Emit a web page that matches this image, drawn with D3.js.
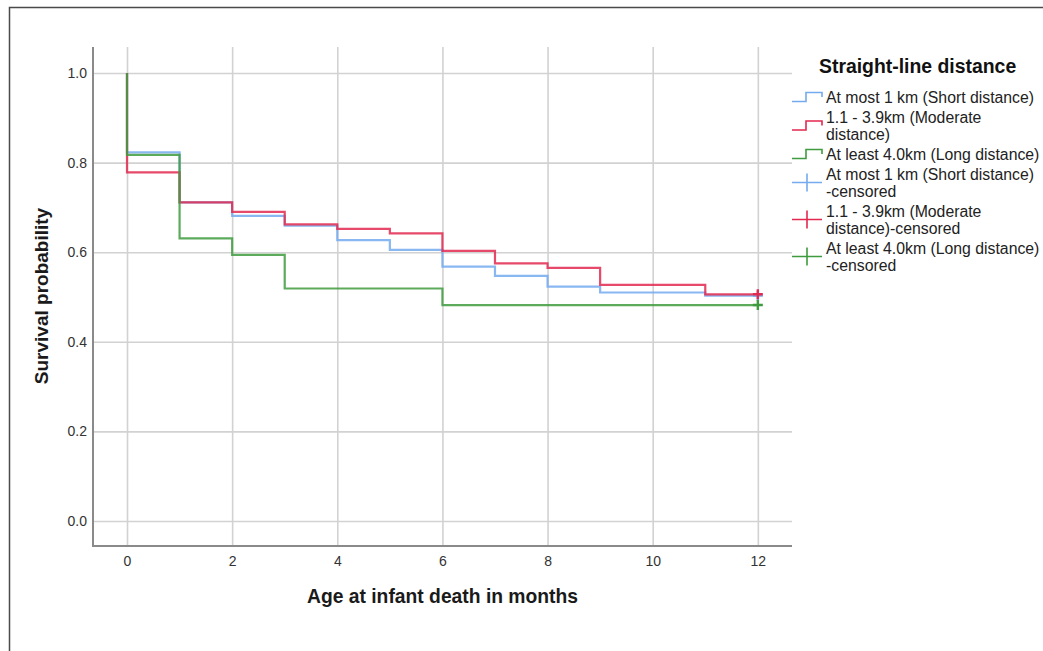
<!DOCTYPE html>
<html>
<head>
<meta charset="utf-8">
<script src="https://cdn.jsdelivr.net/npm/d3@7"></script>
<style>
  html, body { margin: 0; padding: 0; background: #fff; overflow: hidden; }
  svg { display: block; font-family: "Liberation Sans", Arial, sans-serif; }
</style>
</head>
<body>
<svg id="chart" width="1043" height="651"></svg>
<script>
// ---- Data ----
const xTicks = [0, 2, 4, 6, 8, 10, 12];
const yTicks = [0.0, 0.2, 0.4, 0.6, 0.8, 1.0];

const shortTimes = [0, 1, 2, 3, 4, 5, 6, 7, 8, 9, 11];
const shortSurv  = [0.823, 0.711, 0.681, 0.659, 0.627, 0.605, 0.568, 0.547, 0.523, 0.510, 0.503];

const moderateTimes = [0, 1, 2, 3, 4, 5, 6, 7, 8, 9, 11];
const moderateSurv  = [0.778, 0.711, 0.690, 0.662, 0.652, 0.642, 0.603, 0.575, 0.565, 0.527, 0.506];

const longTimes = [0, 1, 2, 3, 6];
const longSurv  = [0.817, 0.631, 0.594, 0.519, 0.482];

const censorTime = 12;
const startSurv = 1.0;

const seriesNames = ["At most 1 km (Short distance)", "1.1 - 3.9km (Moderate distance)", "At least 4.0km (Long distance)"];
const seriesColors = ["#74aaee", "#e2294f", "#3f9b3f"];

const legendTitle = "Straight-line distance";
const legendLabels = [
  ["At most 1 km (Short distance)"],
  ["1.1 - 3.9km (Moderate", "distance)"],
  ["At least 4.0km (Long distance)"],
  ["At most 1 km (Short distance)", "-censored"],
  ["1.1 - 3.9km (Moderate", "distance)-censored"],
  ["At least 4.0km (Long distance)", "-censored"]
];
const legendKinds = ["step", "step", "step", "cross", "cross", "cross"];
const legendSeries = [0, 1, 2, 0, 1, 2];

const xTitle = "Age at infant death in months";
const yTitle = "Survival probability";

// ---- Layout ----
const svg = d3.select("#chart");
const pL = 93, pR = 792, pT = 47, pB = 546;

const x = d3.scaleLinear().domain([-0.647, 12.65]).range([pL, pR]);
const y = d3.scaleLinear().domain([-0.0558, 1.058]).range([pB, pT]);

// outer frame
svg.append("path")
  .attr("d", `M9.5,651 V7.5 H1043`)
  .attr("fill", "none").attr("stroke", "#4a4a4a").attr("stroke-width", 1.5);

// gridlines + axes
const yAxis = d3.axisLeft(y).tickValues(yTicks).tickFormat(d3.format(".1f"))
  .tickSize(-(pR - pL)).tickPadding(6);
const gy = svg.append("g").attr("transform", `translate(${pL},0)`).call(yAxis);
gy.select(".domain").remove();
gy.selectAll(".tick line").attr("stroke", "#d2d2d2").attr("stroke-width", 1.6);
gy.selectAll(".tick text").attr("fill", "#333").style("font-size", "14px");

const xAxis = d3.axisBottom(x).tickValues(xTicks).tickFormat(d3.format("d"))
  .tickSize(-(pB - pT)).tickPadding(10);
const gx = svg.append("g").attr("transform", `translate(0,${pB})`).call(xAxis);
gx.select(".domain").remove();
gx.selectAll(".tick line").attr("stroke", "#d2d2d2").attr("stroke-width", 1.6);
gx.selectAll(".tick text").attr("fill", "#333").style("font-size", "14px");

// axis lines
svg.append("path")
  .attr("d", `M${pL},${pT} V${pB} H${pR}`)
  .attr("fill", "none").attr("stroke", "#8a8a8a").attr("stroke-width", 2);

// survival step curves
function stepPoints(times, surv) {
  const pts = [[times[0], startSurv]];
  times.forEach((t, i) => pts.push([t, surv[i]]));
  pts.push([censorTime, surv[surv.length - 1]]);
  return pts;
}
const series = [
  stepPoints(shortTimes, shortSurv),
  stepPoints(moderateTimes, moderateSurv),
  stepPoints(longTimes, longSurv)
];
const line = d3.line().x(d => x(d[0])).y(d => y(d[1])).curve(d3.curveStepAfter);

svg.append("g").selectAll("path").data(series).join("path")
  .attr("d", line)
  .attr("fill", "none")
  .attr("stroke", (d, i) => seriesColors[i])
  .attr("stroke-width", 2.2)
  .attr("stroke-opacity", 0.85);

// censored marks at end
const censorVals = [shortSurv[shortSurv.length - 1], moderateSurv[moderateSurv.length - 1], longSurv[longSurv.length - 1]];
const cs = 5;
svg.append("g").selectAll("path").data(censorVals).join("path")
  .attr("d", v => `M${x(censorTime) - cs},${y(v)} H${x(censorTime) + cs} M${x(censorTime)},${y(v) - cs} V${y(v) + cs}`)
  .attr("stroke", (d, i) => seriesColors[i])
  .attr("stroke-width", 2.4)
  .attr("fill", "none");

// axis titles
svg.append("text")
  .attr("x", (pL + pR) / 2).attr("y", 603)
  .attr("text-anchor", "middle")
  .style("font-size", "19.3px").style("font-weight", "bold").attr("fill", "#1a1a1a")
  .text(xTitle);

svg.append("text")
  .attr("transform", "translate(48,296) rotate(-90)")
  .attr("text-anchor", "middle")
  .style("font-size", "19px").style("font-weight", "bold").attr("fill", "#1a1a1a")
  .text(yTitle);

// legend
const lg = svg.append("g");
lg.append("text").attr("x", 819).attr("y", 73)
  .style("font-size", "19.4px").style("font-weight", "bold").attr("fill", "#111")
  .text(legendTitle);

const lineH = 17, gap = 3;
let cy = 97; // centre of first text line
legendLabels.forEach((lines, i) => {
  const n = lines.length;
  const mid = cy + (n - 1) * lineH / 2;
  const col = seriesColors[legendSeries[i]];
  if (legendKinds[i] === "step") {
    lg.append("path")
      .attr("d", `M792,${mid + 4.5} H806 V${mid - 4.5} H822 V${mid}`)
      .attr("fill", "none").attr("stroke", col).attr("stroke-width", 1.6);
  } else {
    lg.append("path")
      .attr("d", `M792,${mid} H822 M807,${mid - 9} V${mid + 9}`)
      .attr("fill", "none").attr("stroke", col).attr("stroke-width", 1.6);
  }
  lines.forEach((t, k) => {
    lg.append("text").attr("x", 826).attr("y", cy + k * lineH + 5.5)
      .style("font-size", "15.8px").attr("fill", "#222").text(t);
  });
  cy += n * lineH + gap;
});
</script>
</body>
</html>
